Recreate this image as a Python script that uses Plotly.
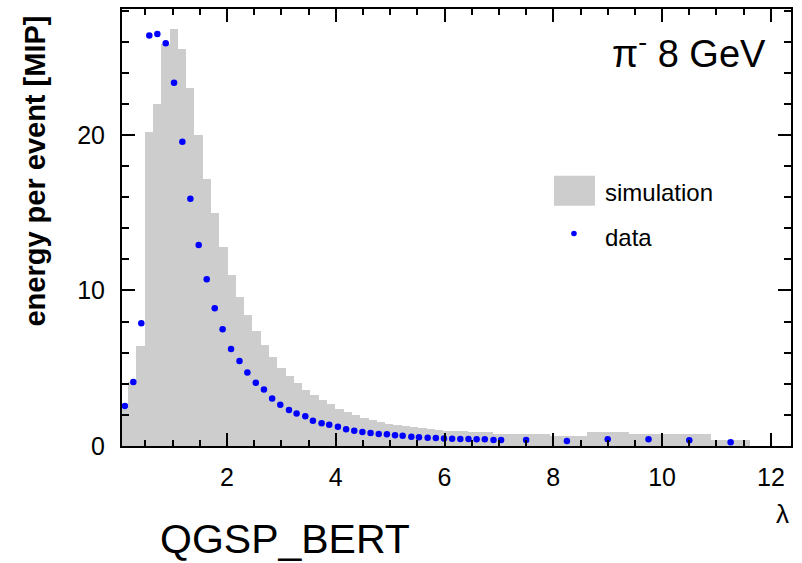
import plotly.graph_objects as go

# ---------------- data ----------------
# simulation histogram: bin edges (lambda) and energy per event [MIP]
sim_edges = [0.030, 0.182, 0.335, 0.487, 0.640, 0.792, 0.944, 1.097, 1.249, 1.402,
             1.554, 1.706, 1.859, 2.011, 2.164, 2.316, 2.468, 2.621, 2.773, 2.926,
             3.078, 3.230, 3.383, 3.535, 3.688, 3.840, 3.992, 4.145, 4.297, 4.450,
             4.602, 4.754, 4.907, 5.059, 5.212, 5.364, 5.516, 5.669, 5.821, 5.974,
             6.126, 6.278, 6.431, 6.583, 6.736, 6.888,
             7.93, 8.62, 9.39, 10.14, 10.89, 11.62]
sim_values = [2.4, 4.1, 6.4, 20.2, 22.0, 25.85, 26.8, 25.5, 23.0, 20.0,
              17.2, 15.0, 12.8, 11.0, 9.57, 8.4, 7.4, 6.5, 5.7, 5.04,
              4.49, 4.02, 3.63, 3.27, 2.99, 2.69, 2.41, 2.2, 1.99, 1.82,
              1.67, 1.54, 1.43, 1.35, 1.26, 1.2, 1.13, 1.07, 1.03, 0.99,
              0.96, 0.94, 0.92, 0.90, 0.88,
              0.8, 0.62, 0.88, 0.75, 0.75, 0.38]

# measured data points
data_x = [0.123, 0.278, 0.425, 0.572, 0.72, 0.874, 1.027, 1.18, 1.327, 1.48,
          1.628, 1.775, 1.92, 2.075, 2.23, 2.375, 2.53, 2.68, 2.83, 2.98,
          3.14, 3.28, 3.44, 3.58, 3.74, 3.88, 4.04, 4.19, 4.34, 4.49,
          4.64, 4.79, 4.94, 5.09, 5.23, 5.39, 5.53, 5.69, 5.84, 5.99,
          6.14, 6.29, 6.44, 6.59, 6.74, 6.9, 7.04,
          7.5, 8.25, 9.0, 9.75, 10.5, 11.26]
data_y = [2.58, 4.12, 7.9, 26.4, 26.5, 25.9, 23.35, 19.57, 15.9, 12.93,
          10.72, 8.85, 7.5, 6.24, 5.47, 4.72, 4.06, 3.63, 3.06, 2.65,
          2.31, 2.09, 1.92, 1.62, 1.47, 1.37, 1.24, 1.07, 0.98, 0.9,
          0.83, 0.77, 0.75, 0.69, 0.66, 0.6, 0.56, 0.53, 0.51, 0.49,
          0.47, 0.45, 0.45, 0.43, 0.43, 0.38, 0.38,
          0.38, 0.32, 0.43, 0.43, 0.37, 0.24]

x_tickvals = [2, 4, 6, 8, 10, 12]
y_tickvals = [0, 10, 20]

# ---------------- figure ----------------
centers = [(a + b) / 2 for a, b in zip(sim_edges[:-1], sim_edges[1:])]
widths = [b - a for a, b in zip(sim_edges[:-1], sim_edges[1:])]

FONT = "Liberation Sans, Arial, Helvetica, sans-serif"
GRAY = "#cdcdcd"
BLUE = "#0000ff"

fig = go.Figure()
fig.add_trace(go.Bar(x=centers, y=sim_values, width=widths,
                     marker=dict(color=GRAY, line=dict(width=0)),
                     name="simulation", showlegend=False))
fig.add_trace(go.Scatter(x=data_x, y=data_y, mode="markers",
                         marker=dict(color=BLUE, size=6.5, line=dict(width=0)),
                         name="data", showlegend=False, cliponaxis=False))

axis_common = dict(showline=True, linecolor="black", linewidth=2, mirror="allticks",
                   ticks="inside", tickcolor="black", tickwidth=2, showgrid=False,
                   zeroline=False, tickfont=dict(family=FONT, size=25, color="black"))

fig.update_xaxes(range=[0.07, 12.37], tickvals=x_tickvals, ticklen=13,
                 minor=dict(dtick=0.5, tick0=0, ticklen=6, ticks="inside",
                            tickcolor="black", tickwidth=1.5, showgrid=False),
                 ticklabelstandoff=8, **axis_common)
fig.update_yaxes(range=[0, 28.1], tickvals=y_tickvals, ticklen=13,
                 minor=dict(dtick=2, tick0=0, ticklen=7, ticks="inside",
                            tickcolor="black", tickwidth=1.5, showgrid=False),
                 ticklabelstandoff=10, **axis_common)

# legend (drawn by hand to match the reference)
fig.add_shape(type="rect", xref="paper", yref="paper",
              x0=0.6457, x1=0.7070, y0=0.5499, y1=0.6182,
              fillcolor=GRAY, line=dict(width=0), layer="below")
fig.add_shape(type="circle", xref="paper", yref="paper",
              xsizemode="pixel", ysizemode="pixel", xanchor=0.6756, yanchor=0.4861,
              x0=-2.8, x1=2.8, y0=-2.8, y1=2.8,
              fillcolor=BLUE, line=dict(width=0))

ann = [
    dict(text="simulation", x=0.719, y=0.5795, xanchor="left", yanchor="middle", size=24),
    dict(text="data", x=0.719, y=0.477, xanchor="left", yanchor="middle", size=24),
    dict(text="π<sup>-</sup> 8 GeV", x=0.9656, y=0.905, xanchor="right", yanchor="middle", size=38),
    dict(text="QGSP_BERT", x=0.0545, y=-0.2135, xanchor="left", yanchor="middle", size=41),
    dict(text="λ", x=0.988, y=-0.156, xanchor="center", yanchor="middle", size=26),
]
for a in ann:
    fig.add_annotation(text=a["text"], x=a["x"], y=a["y"], xref="paper", yref="paper",
                       xanchor=a["xanchor"], yanchor=a["yanchor"], showarrow=False,
                       font=dict(family=FONT, size=a["size"], color="black"))

fig.add_annotation(text="<b>energy per event [MIP]</b>", x=-0.13, y=0.628,
                   xref="paper", yref="paper", textangle=-90, showarrow=False,
                   xanchor="center", yanchor="middle",
                   font=dict(family=FONT, size=29, color="black"))

fig.update_layout(width=802, height=563, autosize=False,
                  margin=dict(l=122, r=11, t=7, b=117),
                  paper_bgcolor="white", plot_bgcolor="white",
                  bargap=0, barmode="overlay", showlegend=False,
                  font=dict(family=FONT, color="black"))

fig.write_html("out.html")
